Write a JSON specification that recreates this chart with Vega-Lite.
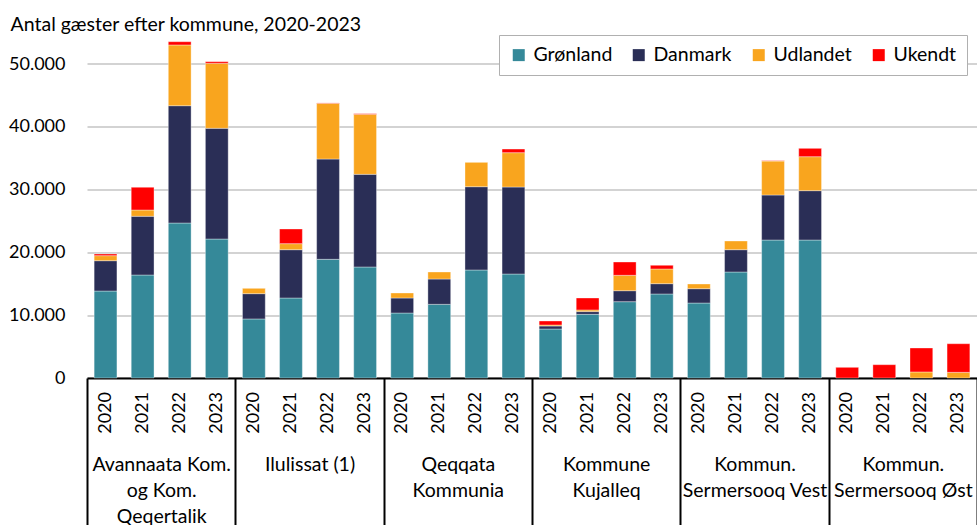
{
  "$schema": "https://vega.github.io/schema/vega-lite/v6.json",
  "autosize": {"type": "none"},
  "padding": {"left": 87, "top": 32.6, "right": 0, "bottom": 147},
  "width": 890,
  "height": 345.4,
  "background": "white",
  "config": {
    "view": {"stroke": null},
    "font": "Lato",
    "text": {"font": "Lato"}
  },
  "title": {
    "text": "Antal gæster efter kommune, 2020-2023",
    "anchor": "start",
    "frame": "bounds",
    "font": "Lato",
    "fontSize": 19.5,
    "fontWeight": "normal",
    "color": "#000000",
    "offset": 0,
    "dx": 2,
    "dy": 3
  },
  "data": {
    "values": [
      {"kommune": "Avannaata Kom. og Kom. Qeqertalik", "aar": "2020", "kategori": "Grønland", "antal": 13850},
      {"kommune": "Avannaata Kom. og Kom. Qeqertalik", "aar": "2020", "kategori": "Danmark", "antal": 4830},
      {"kommune": "Avannaata Kom. og Kom. Qeqertalik", "aar": "2020", "kategori": "Udlandet", "antal": 800},
      {"kommune": "Avannaata Kom. og Kom. Qeqertalik", "aar": "2020", "kategori": "Ukendt", "antal": 270},
      {"kommune": "Avannaata Kom. og Kom. Qeqertalik", "aar": "2021", "kategori": "Grønland", "antal": 16400},
      {"kommune": "Avannaata Kom. og Kom. Qeqertalik", "aar": "2021", "kategori": "Danmark", "antal": 9350},
      {"kommune": "Avannaata Kom. og Kom. Qeqertalik", "aar": "2021", "kategori": "Udlandet", "antal": 1000},
      {"kommune": "Avannaata Kom. og Kom. Qeqertalik", "aar": "2021", "kategori": "Ukendt", "antal": 3620},
      {"kommune": "Avannaata Kom. og Kom. Qeqertalik", "aar": "2022", "kategori": "Grønland", "antal": 24680},
      {"kommune": "Avannaata Kom. og Kom. Qeqertalik", "aar": "2022", "kategori": "Danmark", "antal": 18680},
      {"kommune": "Avannaata Kom. og Kom. Qeqertalik", "aar": "2022", "kategori": "Udlandet", "antal": 9670},
      {"kommune": "Avannaata Kom. og Kom. Qeqertalik", "aar": "2022", "kategori": "Ukendt", "antal": 520},
      {"kommune": "Avannaata Kom. og Kom. Qeqertalik", "aar": "2023", "kategori": "Grønland", "antal": 22130},
      {"kommune": "Avannaata Kom. og Kom. Qeqertalik", "aar": "2023", "kategori": "Danmark", "antal": 17630},
      {"kommune": "Avannaata Kom. og Kom. Qeqertalik", "aar": "2023", "kategori": "Udlandet", "antal": 10350},
      {"kommune": "Avannaata Kom. og Kom. Qeqertalik", "aar": "2023", "kategori": "Ukendt", "antal": 260},
      {"kommune": "Ilulissat (1)", "aar": "2020", "kategori": "Grønland", "antal": 9400},
      {"kommune": "Ilulissat (1)", "aar": "2020", "kategori": "Danmark", "antal": 4030},
      {"kommune": "Ilulissat (1)", "aar": "2020", "kategori": "Udlandet", "antal": 850},
      {"kommune": "Ilulissat (1)", "aar": "2020", "kategori": "Ukendt", "antal": 0},
      {"kommune": "Ilulissat (1)", "aar": "2021", "kategori": "Grønland", "antal": 12740},
      {"kommune": "Ilulissat (1)", "aar": "2021", "kategori": "Danmark", "antal": 7690},
      {"kommune": "Ilulissat (1)", "aar": "2021", "kategori": "Udlandet", "antal": 960},
      {"kommune": "Ilulissat (1)", "aar": "2021", "kategori": "Ukendt", "antal": 2340},
      {"kommune": "Ilulissat (1)", "aar": "2022", "kategori": "Grønland", "antal": 18900},
      {"kommune": "Ilulissat (1)", "aar": "2022", "kategori": "Danmark", "antal": 15970},
      {"kommune": "Ilulissat (1)", "aar": "2022", "kategori": "Udlandet", "antal": 8870},
      {"kommune": "Ilulissat (1)", "aar": "2022", "kategori": "Ukendt", "antal": 60},
      {"kommune": "Ilulissat (1)", "aar": "2023", "kategori": "Grønland", "antal": 17680},
      {"kommune": "Ilulissat (1)", "aar": "2023", "kategori": "Danmark", "antal": 14750},
      {"kommune": "Ilulissat (1)", "aar": "2023", "kategori": "Udlandet", "antal": 9560},
      {"kommune": "Ilulissat (1)", "aar": "2023", "kategori": "Ukendt", "antal": 100},
      {"kommune": "Qeqqata Kommunia", "aar": "2020", "kategori": "Grønland", "antal": 10350},
      {"kommune": "Qeqqata Kommunia", "aar": "2020", "kategori": "Danmark", "antal": 2390},
      {"kommune": "Qeqqata Kommunia", "aar": "2020", "kategori": "Udlandet", "antal": 800},
      {"kommune": "Qeqqata Kommunia", "aar": "2020", "kategori": "Ukendt", "antal": 0},
      {"kommune": "Qeqqata Kommunia", "aar": "2021", "kategori": "Grønland", "antal": 11730},
      {"kommune": "Qeqqata Kommunia", "aar": "2021", "kategori": "Danmark", "antal": 4030},
      {"kommune": "Qeqqata Kommunia", "aar": "2021", "kategori": "Udlandet", "antal": 1120},
      {"kommune": "Qeqqata Kommunia", "aar": "2021", "kategori": "Ukendt", "antal": 0},
      {"kommune": "Qeqqata Kommunia", "aar": "2022", "kategori": "Grønland", "antal": 17200},
      {"kommune": "Qeqqata Kommunia", "aar": "2022", "kategori": "Danmark", "antal": 13260},
      {"kommune": "Qeqqata Kommunia", "aar": "2022", "kategori": "Udlandet", "antal": 3880},
      {"kommune": "Qeqqata Kommunia", "aar": "2022", "kategori": "Ukendt", "antal": 0},
      {"kommune": "Qeqqata Kommunia", "aar": "2023", "kategori": "Grønland", "antal": 16560},
      {"kommune": "Qeqqata Kommunia", "aar": "2023", "kategori": "Danmark", "antal": 13850},
      {"kommune": "Qeqqata Kommunia", "aar": "2023", "kategori": "Udlandet", "antal": 5470},
      {"kommune": "Qeqqata Kommunia", "aar": "2023", "kategori": "Ukendt", "antal": 580},
      {"kommune": "Kommune Kujalleq", "aar": "2020", "kategori": "Grønland", "antal": 7800},
      {"kommune": "Kommune Kujalleq", "aar": "2020", "kategori": "Danmark", "antal": 480},
      {"kommune": "Kommune Kujalleq", "aar": "2020", "kategori": "Udlandet", "antal": 160},
      {"kommune": "Kommune Kujalleq", "aar": "2020", "kategori": "Ukendt", "antal": 640},
      {"kommune": "Kommune Kujalleq", "aar": "2021", "kategori": "Grønland", "antal": 10140},
      {"kommune": "Kommune Kujalleq", "aar": "2021", "kategori": "Danmark", "antal": 430},
      {"kommune": "Kommune Kujalleq", "aar": "2021", "kategori": "Udlandet", "antal": 270},
      {"kommune": "Kommune Kujalleq", "aar": "2021", "kategori": "Ukendt", "antal": 1900},
      {"kommune": "Kommune Kujalleq", "aar": "2022", "kategori": "Grønland", "antal": 12150},
      {"kommune": "Kommune Kujalleq", "aar": "2022", "kategori": "Danmark", "antal": 1750},
      {"kommune": "Kommune Kujalleq", "aar": "2022", "kategori": "Udlandet", "antal": 2450},
      {"kommune": "Kommune Kujalleq", "aar": "2022", "kategori": "Ukendt", "antal": 2120},
      {"kommune": "Kommune Kujalleq", "aar": "2023", "kategori": "Grønland", "antal": 13380},
      {"kommune": "Kommune Kujalleq", "aar": "2023", "kategori": "Danmark", "antal": 1640},
      {"kommune": "Kommune Kujalleq", "aar": "2023", "kategori": "Udlandet", "antal": 2340},
      {"kommune": "Kommune Kujalleq", "aar": "2023", "kategori": "Ukendt", "antal": 590},
      {"kommune": "Kommun. Sermersooq Vest", "aar": "2020", "kategori": "Grønland", "antal": 11940},
      {"kommune": "Kommun. Sermersooq Vest", "aar": "2020", "kategori": "Danmark", "antal": 2280},
      {"kommune": "Kommun. Sermersooq Vest", "aar": "2020", "kategori": "Udlandet", "antal": 750},
      {"kommune": "Kommun. Sermersooq Vest", "aar": "2020", "kategori": "Ukendt", "antal": 0},
      {"kommune": "Kommun. Sermersooq Vest", "aar": "2021", "kategori": "Grønland", "antal": 16880},
      {"kommune": "Kommun. Sermersooq Vest", "aar": "2021", "kategori": "Danmark", "antal": 3550},
      {"kommune": "Kommun. Sermersooq Vest", "aar": "2021", "kategori": "Udlandet", "antal": 1390},
      {"kommune": "Kommun. Sermersooq Vest", "aar": "2021", "kategori": "Ukendt", "antal": 0},
      {"kommune": "Kommun. Sermersooq Vest", "aar": "2022", "kategori": "Grønland", "antal": 21970},
      {"kommune": "Kommun. Sermersooq Vest", "aar": "2022", "kategori": "Danmark", "antal": 7170},
      {"kommune": "Kommun. Sermersooq Vest", "aar": "2022", "kategori": "Udlandet", "antal": 5410},
      {"kommune": "Kommun. Sermersooq Vest", "aar": "2022", "kategori": "Ukendt", "antal": 60},
      {"kommune": "Kommun. Sermersooq Vest", "aar": "2023", "kategori": "Grønland", "antal": 21970},
      {"kommune": "Kommun. Sermersooq Vest", "aar": "2023", "kategori": "Danmark", "antal": 7860},
      {"kommune": "Kommun. Sermersooq Vest", "aar": "2023", "kategori": "Udlandet", "antal": 5410},
      {"kommune": "Kommun. Sermersooq Vest", "aar": "2023", "kategori": "Ukendt", "antal": 1330},
      {"kommune": "Kommun. Sermersooq Øst", "aar": "2020", "kategori": "Grønland", "antal": 0},
      {"kommune": "Kommun. Sermersooq Øst", "aar": "2020", "kategori": "Danmark", "antal": 0},
      {"kommune": "Kommun. Sermersooq Øst", "aar": "2020", "kategori": "Udlandet", "antal": 0},
      {"kommune": "Kommun. Sermersooq Øst", "aar": "2020", "kategori": "Ukendt", "antal": 1700},
      {"kommune": "Kommun. Sermersooq Øst", "aar": "2021", "kategori": "Grønland", "antal": 0},
      {"kommune": "Kommun. Sermersooq Øst", "aar": "2021", "kategori": "Danmark", "antal": 0},
      {"kommune": "Kommun. Sermersooq Øst", "aar": "2021", "kategori": "Udlandet", "antal": 0},
      {"kommune": "Kommun. Sermersooq Øst", "aar": "2021", "kategori": "Ukendt", "antal": 2120},
      {"kommune": "Kommun. Sermersooq Øst", "aar": "2022", "kategori": "Grønland", "antal": 0},
      {"kommune": "Kommun. Sermersooq Øst", "aar": "2022", "kategori": "Danmark", "antal": 0},
      {"kommune": "Kommun. Sermersooq Øst", "aar": "2022", "kategori": "Udlandet", "antal": 960},
      {"kommune": "Kommun. Sermersooq Øst", "aar": "2022", "kategori": "Ukendt", "antal": 3820},
      {"kommune": "Kommun. Sermersooq Øst", "aar": "2023", "kategori": "Grønland", "antal": 0},
      {"kommune": "Kommun. Sermersooq Øst", "aar": "2023", "kategori": "Danmark", "antal": 0},
      {"kommune": "Kommun. Sermersooq Øst", "aar": "2023", "kategori": "Udlandet", "antal": 900},
      {"kommune": "Kommun. Sermersooq Øst", "aar": "2023", "kategori": "Ukendt", "antal": 4560}
    ]
  },
  "encoding": {
    "x": {
      "field": "kommune",
      "type": "nominal",
      "sort": ["Avannaata Kom. og Kom. Qeqertalik", "Ilulissat (1)", "Qeqqata Kommunia", "Kommune Kujalleq", "Kommun. Sermersooq Vest", "Kommun. Sermersooq Øst"],
      "scale": {"paddingInner": 0, "paddingOuter": 0},
      "axis": {
        "title": null,
        "orient": "bottom",
        "domainColor": "#000000",
        "domainWidth": 2,
        "tickBand": "extent",
        "tickSize": 150,
        "tickColor": "#000000",
        "tickWidth": 2,
        "labelPadding": -73,
        "labelBaseline": "top",
        "labelAlign": "center",
        "labelAngle": 0,
        "labelFont": "Lato",
        "labelFontSize": 19.5,
        "labelColor": "#000000",
        "labelLineHeight": 26,
        "labelLimit": 0,
        "labelOverlap": false,
        "labelExpr": "datum.value == 'Avannaata Kom. og Kom. Qeqertalik' ? ['Avannaata Kom.', 'og Kom.', 'Qeqertalik'] : datum.value == 'Qeqqata Kommunia' ? ['Qeqqata', 'Kommunia'] : datum.value == 'Kommune Kujalleq' ? ['Kommune', 'Kujalleq'] : datum.value == 'Kommun. Sermersooq Vest' ? ['Kommun.', 'Sermersooq Vest'] : datum.value == 'Kommun. Sermersooq Øst' ? ['Kommun.', 'Sermersooq Øst'] : datum.value"
      }
    },
    "xOffset": {
      "field": "aar",
      "type": "nominal",
      "scale": {"paddingInner": 0.385, "paddingOuter": 0.1925}
    }
  },
  "layer": [
    {
      "transform": [
        {"filter": "datum.antal > 0"},
        {"calculate": "indexof(['Grønland', 'Danmark', 'Udlandet', 'Ukendt'], datum.kategori)", "as": "orden"}
      ],
      "mark": {"type": "bar", "stroke": "#ffffff", "strokeWidth": 0.6, "strokeOpacity": 0.6},
      "encoding": {
        "y": {
          "field": "antal",
          "type": "quantitative",
          "stack": "zero",
          "scale": {"domain": [0, 55000], "nice": false},
          "axis": {
            "title": null,
            "values": [0, 10000, 20000, 30000, 40000, 50000],
            "labelExpr": "replace(format(datum.value, ','), ',', '.')",
            "domain": false,
            "ticks": false,
            "labelPadding": 22,
            "labelFont": "Lato",
            "labelFontSize": 18,
            "labelColor": "#000000",
            "gridColor": "#c4c4c4",
            "gridWidth": 1.5
          }
        },
        "order": {"field": "orden", "type": "quantitative", "sort": "ascending"},
        "color": {
          "field": "kategori",
          "type": "nominal",
          "sort": ["Grønland", "Danmark", "Udlandet", "Ukendt"],
          "scale": {
            "domain": ["Grønland", "Danmark", "Udlandet", "Ukendt"],
            "range": ["#358999", "#2a2e56", "#f9a51e", "#ff0000"]
          },
          "legend": {
            "title": null,
            "orient": "none",
            "legendX": 412,
            "legendY": 2.4,
            "direction": "horizontal",
            "columns": 4,
            "gridAlign": "all",
            "strokeColor": "#b0b0b0",
            "padding": 10,
            "symbolType": "square",
            "symbolSize": 144,
            "symbolStrokeWidth": 0,
            "labelFont": "Lato",
            "labelFontSize": 19.5,
            "labelColor": "#000000",
            "labelOffset": 5,
            "columnPadding": 16,
            "fillColor": "#ffffff"
          }
        }
      }
    },
    {
      "transform": [{"filter": "datum.kategori == 'Grønland'"}],
      "mark": {"type": "text", "angle": 270, "align": "right", "baseline": "middle", "dx": -14, "font": "Lato", "fontSize": 18, "color": "#000000"},
      "encoding": {
        "y": {"datum": 0},
        "text": {"field": "aar"}
      }
    }
  ]
}
